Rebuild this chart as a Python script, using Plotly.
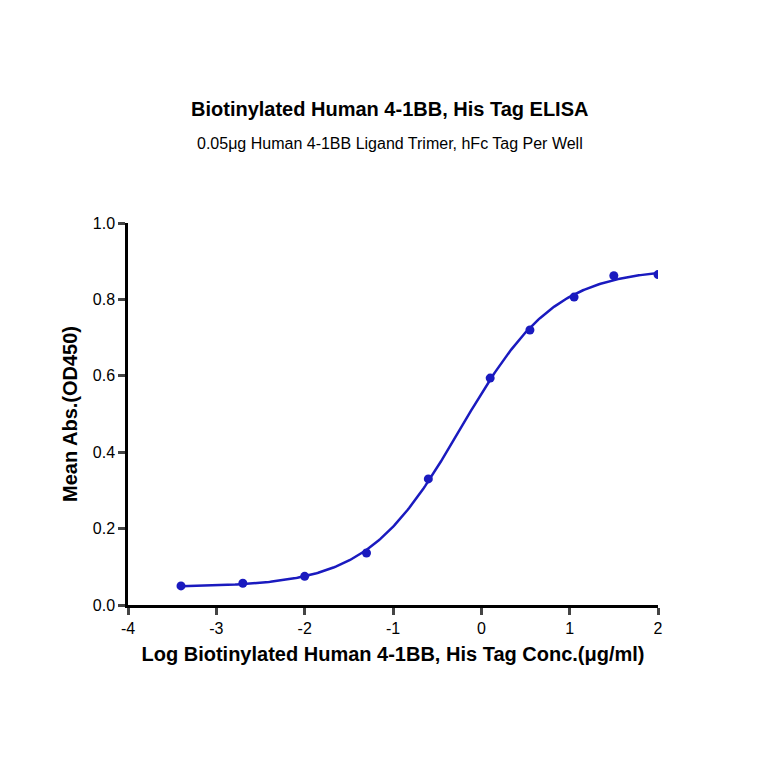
import numpy as np
import plotly.graph_objects as go

log_conc = [-3.40, -2.70, -2.00, -1.30, -0.60, 0.10, 0.55, 1.05, 1.50, 2.00]
mean_abs = [0.050, 0.057, 0.075, 0.136, 0.330, 0.594, 0.720, 0.806, 0.862, 0.865]
x_ticks = [-4, -3, -2, -1, 0, 1, 2]
y_ticks = [0.0, 0.2, 0.4, 0.6, 0.8, 1.0]

# 4PL least-squares fit from the data (grid search on EC50/hill, linear solve for bottom/top)
x = np.array(log_conc); y = np.array(mean_abs)
best = None
for ec in np.linspace(-1.5, 1.0, 251):
    for h in np.linspace(0.3, 2.5, 221):
        s = 1 / (1 + 10 ** ((ec - x) * h))
        A = np.vstack([1 - s, s]).T
        coef, *_ = np.linalg.lstsq(A, y, rcond=None)
        err = np.sum((A @ coef - y) ** 2)
        if best is None or err < best[0]:
            best = (err, ec, h, coef)
_, ec, h, (bot, top) = best
xf = np.linspace(min(log_conc), max(log_conc), 300)
yf = bot + (top - bot) / (1 + 10 ** ((ec - xf) * h))

blue = "#1a1abf"
fig = go.Figure()
fig.add_trace(go.Scatter(x=xf, y=yf, mode="lines", line=dict(color=blue, width=2.5), hoverinfo="skip"))
fig.add_trace(go.Scatter(x=log_conc, y=mean_abs, mode="markers", marker=dict(color=blue, size=9)))

font = "Liberation Sans, Arial, sans-serif"
fig.update_layout(
    width=764, height=764, showlegend=False,
    paper_bgcolor="white", plot_bgcolor="white",
    margin=dict(l=120, r=114, t=215, b=167),
    font=dict(family=font, color="black"),
    annotations=[
        dict(text="<b>Biotinylated Human 4-1BB, His Tag ELISA</b>", x=0.494, y=1.298, xref="paper", yref="paper",
             xanchor="center", yanchor="middle", showarrow=False, font=dict(size=20)),
        dict(text="0.05μg Human 4-1BB Ligand Trimer, hFc Tag Per Well", x=0.494, y=1.209, xref="paper", yref="paper",
             xanchor="center", yanchor="middle", showarrow=False, font=dict(size=16)),
    ],
)
fig.update_xaxes(range=[-4, 2], tickvals=x_ticks, ticktext=[str(t) for t in x_ticks],
                 showline=True, linecolor="black", linewidth=2.5, ticks="outside", ticklen=7, tickwidth=2.5,
                 showgrid=False, zeroline=False, tickfont=dict(size=16),
                 title=dict(text="<b>Log Biotinylated Human 4-1BB, His Tag Conc.(μg/ml)</b>", font=dict(size=20), standoff=12))
fig.update_yaxes(range=[0, 1], tickvals=y_ticks, ticktext=[f"{t:.1f}" for t in y_ticks],
                 showline=True, linecolor="black", linewidth=2.5, ticks="outside", ticklen=7, tickwidth=2.5,
                 showgrid=False, zeroline=False, tickfont=dict(size=16),
                 title=dict(text="<b>Mean Abs.(OD450)</b>", font=dict(size=20), standoff=10))
fig.write_html("out.html")
